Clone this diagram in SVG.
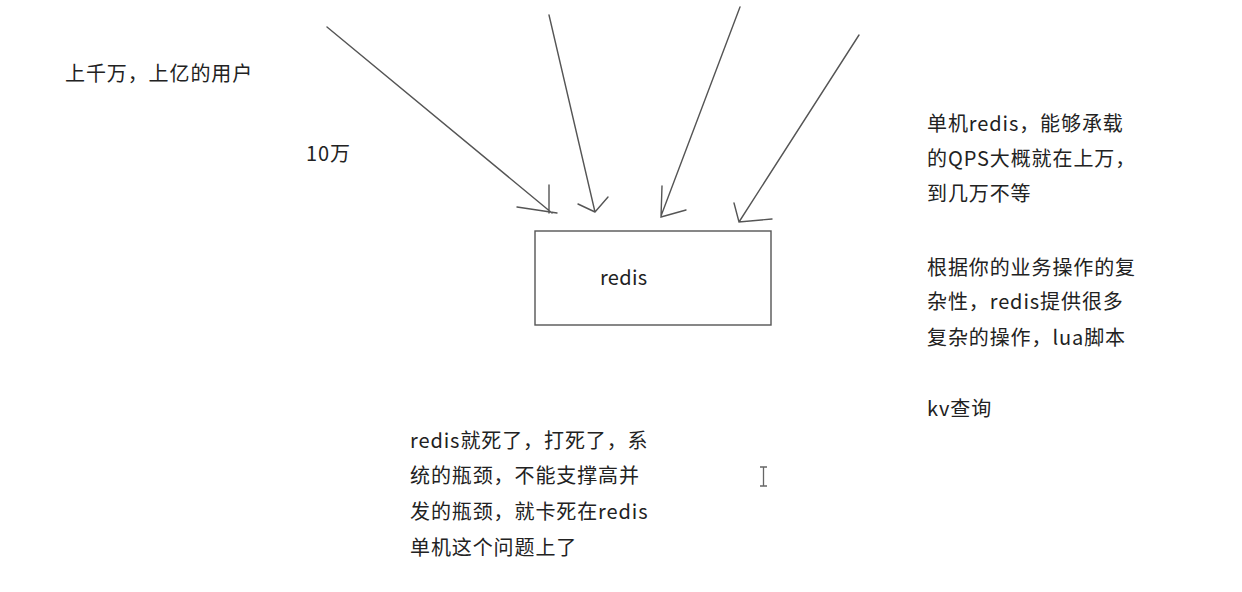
<svg xmlns="http://www.w3.org/2000/svg" width="1242" height="592" viewBox="0 0 1242 592">
<style>
text{font-family:"Noto Sans CJK SC","Liberation Sans",sans-serif;font-size:20px;letter-spacing:0.9px;fill:#222}
.ln{stroke:#555;stroke-width:1.4;fill:none;stroke-linecap:round}
</style>
<rect width="1242" height="592" fill="#fff"/>
<g id="connectors">
<path class="ln" d="M327 27 L552 213 M549 185 L549 213 M517 207 L557 213"/>
<path class="ln" d="M549 15 L595 212 M578 204 L595 212 M608 197 L595 212"/>
<path class="ln" d="M740 7 L661 216 M662 186 L661 217 L686 210"/>
<path class="ln" d="M859 35 L739 222 M734 203 L739 222 L772 219"/>
</g>
<g id="redis">
<rect x="535" y="231" width="236" height="94" fill="#fff" stroke="#555" stroke-width="1.4"/>
<text x="600" y="285" style="letter-spacing:0.3px">redis</text>
</g>
<g id="users"><text x="65" y="81">上千万，上亿的用户</text></g>
<g id="qps10w"><text x="306" y="161">10万</text></g>
<g id="note-right">
<text x="927" y="131">单机redis，能够承载</text>
<text x="927" y="166">的QPS大概就在上万，</text>
<text x="927" y="201">到几万不等</text>
<text x="927" y="275">根据你的业务操作的复</text>
<text x="927" y="309">杂性，redis提供很多</text>
<text x="927" y="345">复杂的操作，lua脚本</text>
<text x="927" y="416">kv查询</text>
</g>
<g id="note-bottom">
<text x="410" y="448">redis就死了，打死了，系</text>
<text x="410" y="483">统的瓶颈，不能支撑高并</text>
<text x="410" y="519">发的瓶颈，就卡死在redis</text>
<text x="410" y="555">单机这个问题上了</text>
</g>
<g id="cursor">
<path d="M760 467 H767 M763.5 467 V486 M760 486 H767" stroke="#666" stroke-width="1.3" fill="none"/>
</g>
</svg>
